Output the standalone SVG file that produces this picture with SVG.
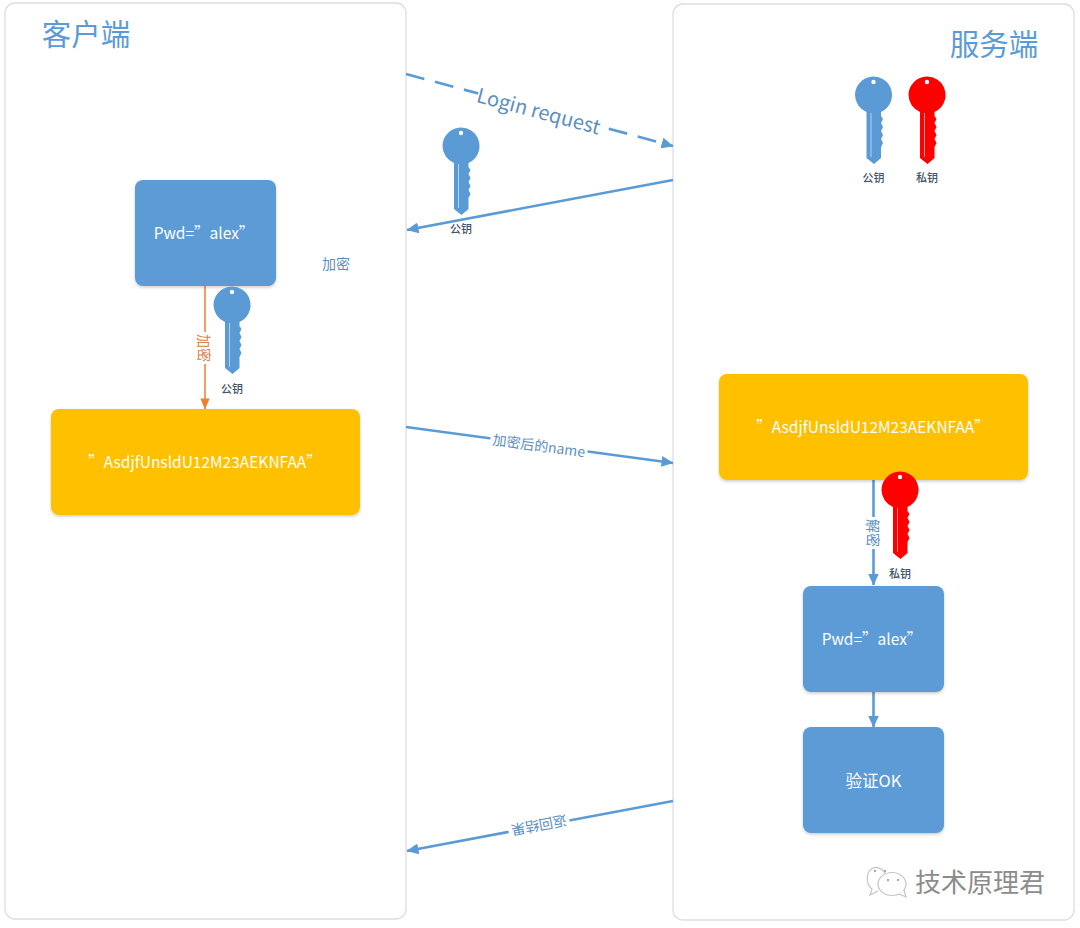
<svg xmlns="http://www.w3.org/2000/svg" width="1080" height="928" viewBox="0 0 1080 928">
<style>
text{font-family:"Liberation Sans","Noto Sans CJK SC",sans-serif;text-anchor:middle;dominant-baseline:central}
.cjk{font-family:"Noto Sans CJK SC","Liberation Sans",sans-serif}
.panel{fill:#fff;stroke:#e0dbe3;stroke-width:1.3}
.box{stroke:none;filter:url(#sh)}
.blue{fill:#5b9bd5}.gold{fill:#ffc000}
.w{fill:#fff;font-size:15.500px}
.title{fill:#5b9bd5;font-size:29.500px}
.cap{fill:#44546a;font-size:11px;font-weight:500}
.lab{fill:#5b8fc0;font-size:14px}
.cl{fill:none;stroke:#5b9bd5;stroke-width:2.600}
</style>
<defs>
<filter id="sh" x="-10%" y="-10%" width="120%" height="125%"><feDropShadow dx="0" dy="1.500" stdDeviation="1.500" flood-color="#000" flood-opacity=".2"/></filter>
<marker id="ab" viewBox="0 0 12 11" refX="11.500" refY="5.500" markerWidth="12" markerHeight="11" markerUnits="userSpaceOnUse" orient="auto"><path d="M0 0L12 5.500L0 11z" fill="#5b9bd5"/></marker>
<marker id="ao" viewBox="0 0 12 10" refX="11.500" refY="5" markerWidth="11" markerHeight="10" markerUnits="userSpaceOnUse" orient="auto"><path d="M0 0L12 5L0 10z" fill="#ed7d31"/></marker>
<path id="keyshape" d="M-18.500 0A18.500 18.500 0 1 1 7.500 17L7.500 21L9.500 24L7.500 28L9.500 32L7.500 36L9.500 40L7.500 44L9.500 48L7.500 52L7.500 63L0.500 69L-7 63L-7 17A18.500 18.500 0 0 1 -18.500 0Z"/>
<g id="key"><use href="#keyshape"/><circle cx="0" cy="-13" r="2.200" fill="#fff"/><path d="M-2.500 18V62" stroke="#fff" stroke-opacity=".55" stroke-width="1"/></g>
</defs>
<rect width="1080" height="928" fill="#fff"/>

<g id="client-panel"><rect class="panel" x="5" y="3" width="401" height="916" rx="10"/><text class="title cjk" x="86" y="32">客户端</text></g>
<g id="server-panel"><rect class="panel" x="673" y="4" width="401" height="916" rx="10"/><text class="title cjk" x="994" y="42">服务端</text></g>

<g id="connectors">
<path class="cl" d="M406 74L673 146" stroke-dasharray="19 11" marker-end="url(#ab)"/>
<path class="cl" d="M673 180L407 230" marker-end="url(#ab)"/>
<path class="cl" d="M406 427L673 463" marker-end="url(#ab)"/>
<path class="cl" d="M673 801L407 851" marker-end="url(#ab)"/>
<path d="M205 286V409" fill="none" stroke="#ed7d31" stroke-width="1.500" marker-end="url(#ao)"/>
<path class="cl" d="M873.500 480V585" marker-end="url(#ab)"/>
<path class="cl" d="M873.500 691V727" marker-end="url(#ab)"/>
</g>

<g id="label-login"><rect x="-63" y="-12" width="126" height="24" fill="#fff" transform="translate(539 110) rotate(15)"/><text class="cjk" transform="translate(539 110) rotate(15)" fill="#5b8fc0" font-size="20">Login request</text></g>
<g id="label-encrypted"><rect x="-49" y="-10" width="98" height="20" fill="#fff" transform="translate(539 445) rotate(7.700)"/><text class="lab cjk" transform="translate(539 445) rotate(7.700)">加密后的name</text></g>
<g id="label-return"><rect x="-31" y="-10" width="62" height="20" fill="#fff" transform="translate(539 826) rotate(169.400)"/><text class="lab cjk" transform="translate(539 826) rotate(169.400)">返回结果</text></g>
<g id="label-encrypt"><rect x="-16" y="-9" width="32" height="18" fill="#fff" transform="translate(205 348) rotate(90)"/><text class="cjk" fill="#d9824a" font-size="14" transform="translate(205 348) rotate(90)">加密</text></g>
<g id="label-decrypt"><rect x="-16" y="-9" width="32" height="18" fill="#fff" transform="translate(873.500 533) rotate(90)"/><text class="lab cjk" transform="translate(873.500 533) rotate(90)">解密</text></g>
<g id="label-encrypt-side"><text class="lab cjk" x="336" y="263">加密</text></g>

<g id="node-pwd-client"><rect class="box blue" x="135" y="180" width="141" height="106" rx="8"/><text class="w cjk" x="204" y="232">Pwd=”alex”</text></g>
<g id="node-cipher-client"><rect class="box gold" x="51" y="409" width="309" height="106" rx="8"/><text class="w cjk" x="205" y="461">”AsdjfUnsldU12M23AEKNFAA”</text></g>
<g id="node-cipher-server"><rect class="box gold" x="719" y="374" width="309" height="106" rx="8"/><text class="w cjk" x="873" y="426">”AsdjfUnsldU12M23AEKNFAA”</text></g>
<g id="node-pwd-server"><rect class="box blue" x="803" y="586" width="141" height="106" rx="8"/><text class="w cjk" x="872" y="638">Pwd=”alex”</text></g>
<g id="node-verify"><rect class="box blue" x="803" y="727" width="141" height="106" rx="8"/><text class="w cjk" x="873.500" y="780" style="font-size:16.500px">验证OK</text></g>

<g id="key-transit"><use href="#key" x="461" y="146" fill="#5b9bd5"/><text class="cap cjk" x="461" y="228">公钥</text></g>
<g id="key-client"><use href="#key" x="232" y="305" fill="#5b9bd5"/><text class="cap cjk" x="232" y="388">公钥</text></g>
<g id="key-server-public"><use href="#key" x="873.500" y="95" fill="#5b9bd5"/><text class="cap cjk" x="873.500" y="177">公钥</text></g>
<g id="key-server-private"><use href="#key" x="927" y="95" fill="#ff0000"/><text class="cap cjk" x="927" y="177">私钥</text></g>
<g id="key-decrypt"><use href="#key" x="900" y="490" fill="#ff0000"/><text class="cap cjk" x="900" y="573">私钥</text></g>

<g id="watermark">
<path d="M886 878C886 870 878 866 873 868C866 871 865 884 872 889L870 895L878 891" fill="none" stroke="#c4c4c4" stroke-width="1.200"/>
<ellipse cx="892" cy="884" rx="14" ry="11.500" fill="#fff" stroke="#c4c4c4" stroke-width="1.200"/>
<path d="M899 894L906 897L904 890" fill="#fff" stroke="#c4c4c4" stroke-width="1.200"/>
<circle cx="888" cy="880" r="1.200" fill="#aaa"/><circle cx="898" cy="880" r="1.200" fill="#aaa"/><circle cx="875" cy="871" r="1.200" fill="#aaa"/><circle cx="885" cy="871" r="1.200" fill="#aaa"/>
<text class="cjk" x="980" y="880" font-size="26" fill="#8c8c8c">技术原理君</text>
</g>
</svg>
